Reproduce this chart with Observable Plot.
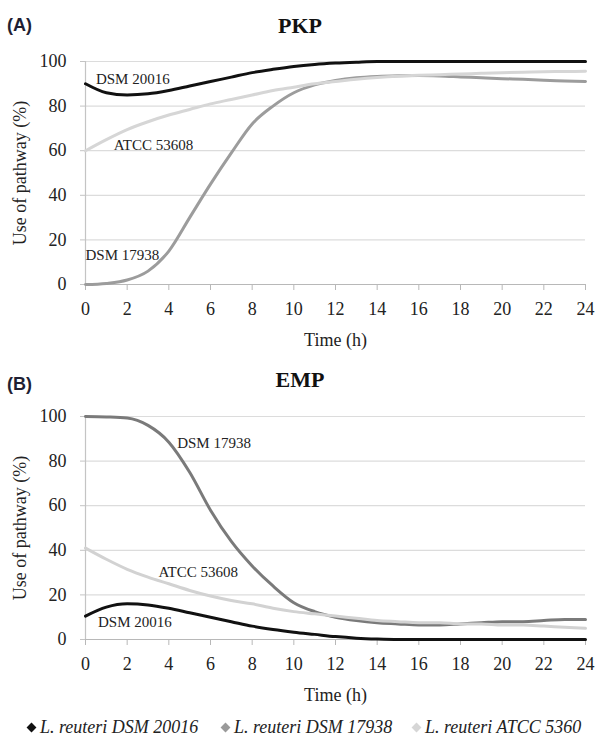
<!DOCTYPE html>
<html>
<head>
<meta charset="utf-8">
<script src="https://cdn.jsdelivr.net/npm/d3@7"></script>
<script src="https://cdn.jsdelivr.net/npm/@observablehq/plot@0.6"></script>
<style>
  html, body { margin:0; padding:0; background:#fff; overflow:hidden; }
  #wrap { position:relative; width:595px; height:743px; font-family:"Liberation Serif", serif; color:#222; }
  .panel { position:absolute; left:0; z-index:1; }
  .panel svg, .panel svg text { font-family:"Liberation Serif", "Times New Roman", serif !important; }
  .tag { position:absolute; left:7px; z-index:2; font-family:"Liberation Sans", Arial, sans-serif; font-weight:bold; font-size:18px; color:#1f1f33; }
  .title { position:absolute; left:200px; width:200px; z-index:2; text-align:center; font-family:"Liberation Serif", serif; font-weight:bold; font-size:22px; color:#111; }
  .leg { position:absolute; top:716px; white-space:nowrap; font-family:"Liberation Serif", serif; font-style:italic; font-size:18px; color:#222; line-height:22px; }
  .dia { display:inline-block; width:7px; height:7px; transform:rotate(45deg); margin-right:5px; vertical-align:2px; }
</style>
</head>
<body>
<div id="wrap">
  <div id="pA" class="panel" style="top:0px"></div>
  <div id="pB" class="panel" style="top:355px"></div>
  <div class="tag" style="top:15px">(A)</div>
  <div class="title" style="top:13px">PKP</div>
  <div class="tag" style="top:374px">(B)</div>
  <div class="title" style="top:367px">EMP</div>
  <div id="legend"></div>
</div>
<script>
// ---- data ----
const times = [0,1,2,3,4,5,6,7,8,9,10,11,12,13,14,15,16,17,18,19,20,21,22,23,24];
const strains = ["DSM 20016", "DSM 17938", "ATCC 53608"];
const legendLabels = ["L. reuteri DSM 20016", "L. reuteri DSM 17938", "L. reuteri ATCC 5360"];
const xTicks = [0,2,4,6,8,10,12,14,16,18,20,22,24];
const yTicks = [0,20,40,60,80,100];

// PKP (panel A)
const pkp20016 = [90,86,85,85.5,87,89,91,93,95,96.5,97.8,98.7,99.3,99.7,100,100,100,100,100,100,100,100,100,100,100];
const pkp17938 = [0,0.5,2,6,15,30,45,59,72,80,86,89.5,91.5,92.7,93.3,93.6,93.7,93.5,93.1,92.7,92.3,92,91.6,91.3,91];
const pkp53608 = [60,65,69.5,73,76,78.5,81,83,85,87,88.5,90,91,92,92.8,93.4,93.8,94.1,94.4,94.7,95,95.2,95.4,95.5,95.6];

// EMP (panel B)
const emp20016 = [10.5,14.5,16,15.5,14,12,10,8,6,4.5,3.3,2.3,1.3,0.6,0.2,0,0,0,0,0,0,0,0,0,0];
const emp17938 = [100,99.8,99.3,96,88.5,75,58,44,33,24,16.5,12.5,10,8.5,7.5,7,6.5,6.5,7,7.5,8,8,8.5,9,9];
const emp53608 = [41,36,31.5,28,25,22,19.5,17.5,16,14,12.5,11.5,10.5,9.5,8.5,8,7.5,7.5,7,7,6.5,6.5,6,5.5,5];

// in-plot labels
const labelsA = [
  {t:0.5, v:92, text:"DSM 20016"},
  {t:1.35, v:62.5, text:"ATCC 53608"},
  {t:0.0, v:13, text:"DSM 17938"}
];
const labelsB = [
  {t:4.4, v:88, text:"DSM 17938"},
  {t:3.5, v:30, text:"ATCC 53608"},
  {t:0.6, v:7.6, text:"DSM 20016"}
];

const colorsA = ["#111111", "#9c9c9c", "#d6d6d6"];
const colorsB = ["#111111", "#7a7a7a", "#d2d2d2"];
const legendColors = ["#111111", "#9a9a9a", "#d6d6d6"];
const serif = "Liberation Serif";

function table(series) {
  const rows = [];
  series.forEach((vals, i) => vals.forEach((v, j) => rows.push({s: strains[i], t: times[j], v})));
  return rows;
}

function panel(series, colors, labels) {
  return Plot.plot({
    width: 595, height: 355,
    marginTop: 61, marginBottom: 71, marginLeft: 85, marginRight: 10,
    x: {domain: [0, 24]},
    y: {domain: [0, 100]},
    color: {domain: strains, range: colors},
    style: "font-family: 'Liberation Serif', serif; font-size: 18px; color: #222; background: white;",
    marks: [
      Plot.gridY(yTicks, {stroke: "#dcdcdc", strokeOpacity: 1, strokeWidth: 1.2}),
      Plot.ruleX([0], {stroke: "#c4c4c4", strokeWidth: 1.2}),
      Plot.ruleY([0], {stroke: "#b8b8b8", strokeWidth: 1.2}),
      Plot.axisY({ticks: yTicks, tickSize: 5, tickPadding: 14, label: null, stroke: "#c4c4c4", fill: "#222", fontSize: 18, fontFamily: serif}),
      Plot.axisX({ticks: xTicks, tickSize: 6, tickPadding: 12, label: null, stroke: "#b8b8b8", fill: "#222", fontSize: 18, fontFamily: serif}),
      Plot.line(table(series), {x: "t", y: "v", z: "s", stroke: "s", strokeWidth: 3, curve: "monotone-x"}),
      Plot.text(labels, {x: "t", y: "v", text: "text", textAnchor: "start", fontSize: 15, fill: "#222", fontFamily: serif}),
      Plot.text(["Use of pathway (%)"], {frameAnchor: "left", textAnchor: "middle", lineAnchor: "middle", rotate: -90, dx: -65, fontSize: 18, fill: "#222", fontFamily: serif}),
      Plot.text(["Time (h)"], {frameAnchor: "bottom", textAnchor: "middle", lineAnchor: "middle", dy: 56, fontSize: 18, fill: "#222", fontFamily: serif})
    ]
  });
}

document.getElementById("pA").append(panel([pkp20016, pkp17938, pkp53608], colorsA, labelsA));
document.getElementById("pB").append(panel([emp20016, emp17938, emp53608], colorsB, labelsB));

// legend
const legX = [28, 222, 413];
const leg = document.getElementById("legend");
legendLabels.forEach((lab, i) => {
  const d = document.createElement("div");
  d.className = "leg";
  d.style.left = legX[i] + "px";
  const sw = document.createElement("span");
  sw.className = "dia";
  sw.style.background = legendColors[i];
  d.append(sw, document.createTextNode(lab));
  leg.append(d);
});
</script>
</body>
</html>
